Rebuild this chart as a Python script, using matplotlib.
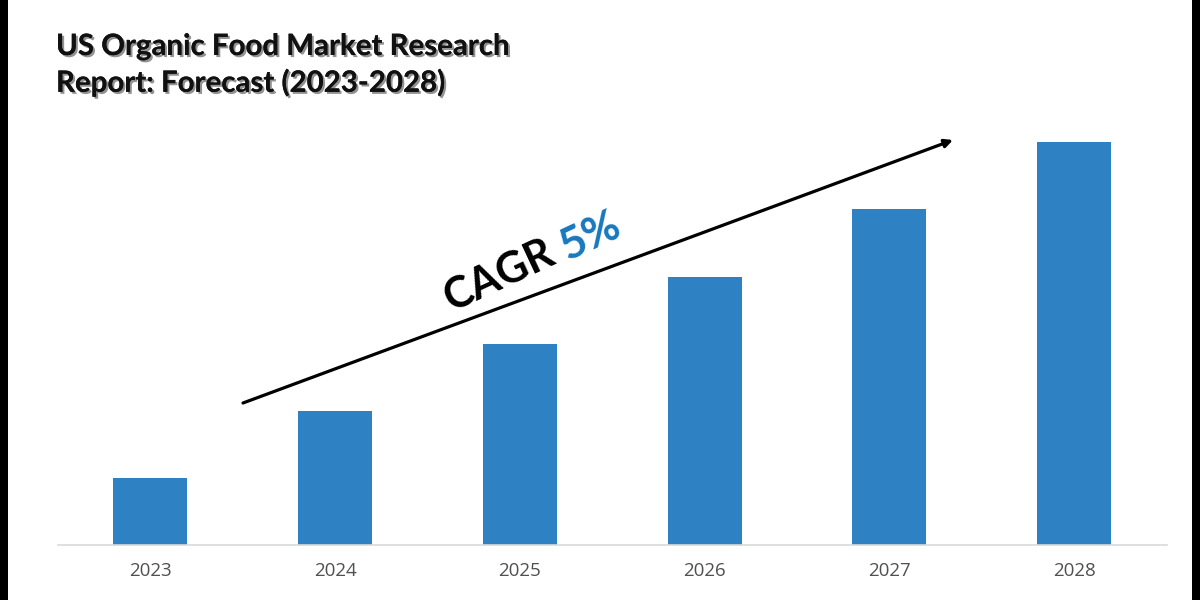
import matplotlib
matplotlib.use('Agg')
import matplotlib.pyplot as plt
import matplotlib.patheffects as pe

years = ['2023', '2024', '2025', '2026', '2027', '2028']
values = [67, 134, 201, 268, 336, 403]
title_lines = ['US Organic Food Market Research', 'Report: Forecast (2023-2028)']

W, H = 1200, 600

def fx(px):
    return px / W

def fy(px):
    return 1 - px / H

fig = plt.figure(figsize=(12, 6), dpi=100, facecolor='white')

# black strips at the image edges
for x0, x1 in [(0, 8), (1192, 1200)]:
    fig.patches.append(plt.Rectangle((fx(x0), 0), fx(x1 - x0), 1, transform=fig.transFigure,
                                     facecolor='black', edgecolor='none'))

ax = fig.add_axes([fx(58), fy(545), fx(1166.5 - 58), (545 - 100) / H])
ax.bar(years, values, width=0.4, color='#2E81C3')
ax.set_xlim(-0.5, 5.5)
ax.set_ylim(0, 445)
ax.patch.set_alpha(0)
for side in ['top', 'left', 'right']:
    ax.spines[side].set_visible(False)
ax.spines['bottom'].set_color('#D9D9D9')
ax.spines['bottom'].set_linewidth(1.2)
ax.set_yticks([])
ax.tick_params(axis='x', length=0, pad=12, labelsize=13.5, labelcolor='#505050')
for label in ax.get_xticklabels():
    label.set_fontfamily('Open Sans')

shadow = [pe.withSimplePatchShadow(offset=(1.5, -1.5), shadow_rgbFace='#777777', alpha=0.8), pe.Normal()]
for text, y in zip(title_lines, [47, 83]):
    fig.text(fx(56), fy(y), text, fontsize=21.2, fontweight='bold', family='Lato',
             color='#111111', va='center', ha='left', path_effects=shadow)

ax.annotate('', xy=(953, H - 140), xytext=(243, H - 403), xycoords='figure pixels',
            textcoords='figure pixels',
            arrowprops=dict(arrowstyle='-|>', color='black', lw=2.3, mutation_scale=12,
                            shrinkA=0, shrinkB=0))

fig.text(fx(499), fy(275), 'CAGR', fontsize=31, fontweight='bold', family='Lato',
         color='black', rotation=25, rotation_mode='anchor', ha='center', va='center')
fig.text(fx(590), fy(236), '5%', fontsize=32, fontweight='bold', family='Lato',
         color='#1878BE', rotation=25, rotation_mode='anchor', ha='center', va='center')

fig.savefig('out.png', dpi=100)
